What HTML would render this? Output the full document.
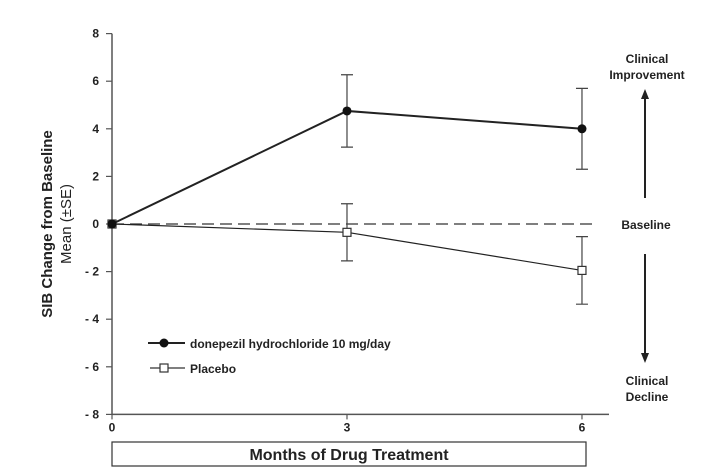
<!DOCTYPE html>
<html><head><meta charset="utf-8"><style>
body{margin:0;background:#fff;}
svg{display:block;font-family:"Liberation Sans",Arial,sans-serif;font-weight:bold;}
</style></head><body>
<svg width="713" height="473" viewBox="0 0 713 473">
<g id="axes"></g><g id="marks"></g>
<text x="647" y="63" text-anchor="middle" font-size="12" fill="#222">Clinical</text>
<text x="647" y="79" text-anchor="middle" font-size="12" fill="#222">Improvement</text>
<line x1="645" y1="198" x2="645" y2="98" stroke="#222" stroke-width="2"/>
<polygon points="645,89 641,99 649,99" fill="#222"/>
<text x="646" y="229" text-anchor="middle" font-size="12" fill="#222">Baseline</text>
<line x1="645" y1="254" x2="645" y2="355" stroke="#222" stroke-width="2"/>
<polygon points="645,363 641,353 649,353" fill="#222"/>
<text x="647" y="385" text-anchor="middle" font-size="12" fill="#222">Clinical</text>
<text x="647" y="401" text-anchor="middle" font-size="12" fill="#222">Decline</text>
<text transform="translate(52,224) rotate(-90)" text-anchor="middle" font-size="15" fill="#222">SIB Change from Baseline</text>
<text transform="translate(71,224) rotate(-90)" text-anchor="middle" font-size="15" font-weight="normal" fill="#222">Mean (±SE)</text>
<rect x="112" y="442" width="474" height="24" fill="none" stroke="#333" stroke-width="1.2"/>
<text x="349" y="460" text-anchor="middle" font-size="16" fill="#222">Months of Drug Treatment</text>
<line x1="148" y1="343" x2="185" y2="343" stroke="#222" stroke-width="2"/>
<circle cx="164" cy="343" r="4.5" fill="#111"/>
<text x="190" y="348" font-size="12" fill="#222">donepezil hydrochloride 10 mg/day</text>
<line x1="150" y1="368" x2="185" y2="368" stroke="#333" stroke-width="1.2"/>
<rect x="160" y="364" width="8" height="8" fill="#fff" stroke="#333" stroke-width="1.2"/>
<text x="190" y="373" font-size="12" fill="#222">Placebo</text>
</svg>
<script>
const months=[0,3,6];
const donepezil=[0,4.75,4.0];
const donepezilSE=[0,1.52,1.7];
const placebo=[0,-0.35,-1.95];
const placeboSE=[0,1.2,1.42];
const yTicks=[8,6,4,2,0,-2,-4,-6,-8];
const yTickLabels=["8","6","4","2","0","- 2","- 4","- 6","- 8"];
const xTicks=[0,3,6];
const NS="http://www.w3.org/2000/svg";
const X=m=>112+m*78.33;
const Y=v=>224-v*23.8;
function mk(tag,attrs,parent){const e=document.createElementNS(NS,tag);for(const k in attrs)e.setAttribute(k,attrs[k]);parent.appendChild(e);return e;}
const axes=document.getElementById('axes'),marks=document.getElementById('marks');
let e=mk('line',{x1:112,y1:Y(8),x2:112,y2:Y(-8),stroke:'#555','stroke-width':1.5},axes);


e=mk('line',{x1:112,y1:Y(-8),x2:609,y2:Y(-8),stroke:'#555','stroke-width':1.5},axes);


yTicks.forEach((v,i)=>{
  let t=mk('line',{x1:106,y1:Y(v),x2:112,y2:Y(v),stroke:'#555','stroke-width':1.2},axes);
  
  
  let l=mk('text',{x:99,y:Y(v)+4,'text-anchor':'end','font-size':12,fill:'#222'},axes);
  l.textContent=yTickLabels[i];
  
  
});
xTicks.forEach(m=>{
  let t=mk('line',{x1:X(m),y1:Y(-8),x2:X(m),y2:Y(-8)+5,stroke:'#555','stroke-width':1.2},axes);
  
  
  let l=mk('text',{x:X(m),y:Y(-8)+17,'text-anchor':'middle','font-size':12,fill:'#222'},axes);
  l.textContent=String(m);
  
  
});
e=mk('line',{x1:112,y1:Y(0),x2:595,y2:Y(0),stroke:'#333','stroke-width':1.2,'stroke-dasharray':'12,6'},axes);


function series(vals,se,name,width,filled){
  const pts=months.map((m,i)=>X(m)+','+Y(vals[i])).join(' ');
  let p=mk('polyline',{points:pts,fill:'none',stroke:'#222','stroke-width':width},marks);
  
  
  months.forEach((m,i)=>{
    if(se[i]>0){
      const x=X(m),t=Y(vals[i]+se[i]),b=Y(vals[i]-se[i]);
      let g=mk('path',{d:`M${x},${t}V${b}M${x-6},${t}H${x+6}M${x-6},${b}H${x+6}`,stroke:'#444','stroke-width':1.2,fill:'none'},marks);
      
      
    }
    let c;
    if(filled){c=mk('circle',{cx:X(m),cy:Y(vals[i]),r:4.5,fill:'#111'},marks);}
    else{c=mk('rect',{x:X(m)-4,y:Y(vals[i])-4,width:8,height:8,fill:'#fff',stroke:'#333','stroke-width':1.2},marks);}
    
    
  });
}
series(placebo,placeboSE,'placebo',1.2,false);
series(donepezil,donepezilSE,'donepezil',2,true);
</script>
</body></html>
